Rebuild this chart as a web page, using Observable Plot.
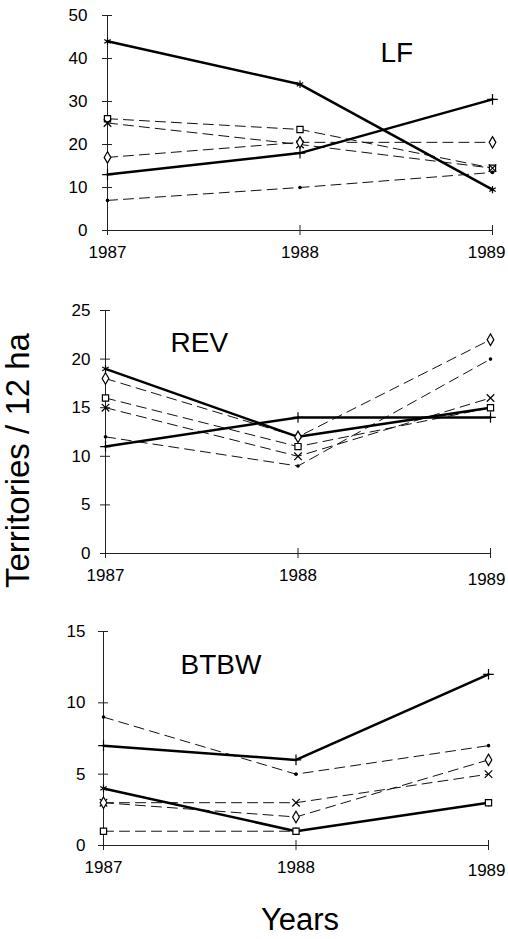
<!DOCTYPE html>
<html><head><meta charset="utf-8">
<script src="https://cdn.jsdelivr.net/npm/d3@7"></script>
<script src="https://cdn.jsdelivr.net/npm/@observablehq/plot@0.6"></script>
<style>
body{margin:0;background:#fff;}
#wrap{position:relative;width:508px;height:939px;overflow:hidden;background:#fff;font-family:"Liberation Sans",Arial,Helvetica,sans-serif;color:#000;}
.panel{position:absolute;left:0;}
#ytitle{position:absolute;width:320px;height:33px;line-height:33px;font-size:33px;text-align:center;left:-143px;top:443.5px;transform:rotate(-90deg);transform-origin:50% 50%;white-space:nowrap;}
#xtitle{position:absolute;width:200px;left:200px;top:904px;font-size:31px;line-height:31px;text-align:center;}
</style></head><body><div id="wrap"></div>
<script>
const years = [1987, 1988, 1989];
const seriesNames = ["asterisk", "plus", "square", "times", "diamond", "dot"];
const seriesSymbols = ["asterisk", "plus", "square", "times", "diamond", "circle"];
const solidSeries = ["asterisk", "plus"];

// LF
const lfAsterisk = [44, 34, 9.5];
const lfPlus = [13, 18, 30.5];
const lfSquare = [26, 23.5, 14.5];
const lfTimes = [25, 20, 14.5];
const lfDiamond = [17, 20.5, 20.5];
const lfDot = [7, 10, 13.5];
// REV
const revAsterisk = [19, 12, 15];
const revPlus = [11, 14, 14];
const revSquare = [16, 11, 15];
const revTimes = [15, 10, 16];
const revDiamond = [18, 12, 22];
const revDot = [12, 9, 20];
// BTBW
const btbwAsterisk = [4, 1, 3];
const btbwPlus = [7, 6, 12];
const btbwSquare = [1, 1, 3];
const btbwTimes = [3, 3, 5];
const btbwDiamond = [3, 2, 6];
const btbwDot = [9, 5, 7];

const panelLabels = ["LF", "REV", "BTBW"];
const lfTicks = [0, 10, 20, 30, 40, 50];
const revTicks = [0, 5, 10, 15, 20, 25];
const btbwTicks = [0, 5, 10, 15];
const yTitle = "Territories / 12 ha";
const xTitle = "Years";

function rows(arrays) {
  const out = [];
  seriesNames.forEach((s, i) => years.forEach((yr, j) => out.push({series: s, year: yr, value: arrays[i][j]})));
  return out;
}

const panels = [
  {label: panelLabels[0], data: rows([lfAsterisk, lfPlus, lfSquare, lfTimes, lfDiamond, lfDot]), ticks: lfTicks,
   top: 0, height: 265, mt: 15, ml: 107, mr: 16, gap: 20, lx: 273, ly: 38, dy89: 0},
  {label: panelLabels[1], data: rows([revAsterisk, revPlus, revSquare, revTimes, revDiamond, revDot]), ticks: revTicks,
   top: 265, height: 323, mt: 45, ml: 105, mr: 18, gap: 15, lx: 65, ly: 33, dy89: 4},
  {label: panelLabels[2], data: rows([btbwAsterisk, btbwPlus, btbwSquare, btbwTimes, btbwDiamond, btbwDot]), ticks: btbwTicks,
   top: 588, height: 292, mt: 43, ml: 103, mr: 20, gap: 18, lx: 77, ly: 34, dy89: 3}
];

const wrap = document.getElementById("wrap");
const font = "Liberation Sans, Arial, Helvetica, sans-serif";

for (const p of panels) {
  const solid = p.data.filter(d => solidSeries.includes(d.series));
  const dashed = p.data.filter(d => !solidSeries.includes(d.series));
  const markers = p.data.filter(d => d.series !== "dot");
  const dots = p.data.filter(d => d.series === "dot");
  const ymax = p.ticks[p.ticks.length - 1];
  const chart = Plot.plot({
    width: 508,
    height: p.height,
    marginTop: p.mt,
    marginBottom: 35,
    marginLeft: p.ml,
    marginRight: p.mr,
    style: {fontFamily: font, fontSize: "17px", color: "#000", background: "transparent", overflow: "visible"},
    x: {domain: [years[0], years[years.length - 1]]},
    y: {domain: [0, ymax]},
    symbol: {domain: seriesNames, range: seriesSymbols},
    marks: [
      Plot.ruleY([0], {stroke: "#222", strokeWidth: 1}),
      Plot.ruleX([years[0]], {stroke: "#222", strokeWidth: 1}),
      Plot.axisY(p.ticks, {tickSize: 10, dx: 5, tickPadding: p.gap - 5, fontSize: 17, label: null, stroke: "#222"}),
      Plot.axisX(years.slice(0, 2), {tickSize: 10, dy: -5, tickPadding: 10, fontSize: 17, label: null, tickFormat: d => String(d), stroke: "#222"}),
      Plot.axisX(years.slice(2), {tickSize: 10, dy: -5, tickPadding: 10, fontSize: 17, label: null, tickFormat: () => "", stroke: "#222"}),
      Plot.axisX(years.slice(2), {tickSize: 0, tickPadding: 15, dy: p.dy89, dx: p.mr - 3, textAnchor: "end", fontSize: 17, label: null, tickFormat: d => String(d)}),
      Plot.line(dashed, {x: "year", y: "value", z: "series", stroke: "#111", strokeWidth: 1, strokeDasharray: "10,6"}),
      Plot.line(solid, {x: "year", y: "value", z: "series", stroke: "#000", strokeWidth: 2.5}),
      Plot.dot(markers, {x: "year", y: "value", symbol: "series", stroke: "#000", fill: "white", r: 3.5, strokeWidth: 1.2}),
      Plot.dot(dots, {x: "year", y: "value", r: 1.8, fill: "#000"}),
      Plot.text([p.label], {text: d => d, frameAnchor: "top-left", textAnchor: "start", lineAnchor: "middle", dx: p.lx, dy: p.ly, fontSize: 28})
    ]
  });
  chart.classList.add("panel");
  chart.style.top = p.top + "px";
  chart.style.position = "absolute";
  wrap.appendChild(chart);
}

const yt = document.createElement("div");
yt.id = "ytitle";
yt.textContent = yTitle;
wrap.appendChild(yt);
const xt = document.createElement("div");
xt.id = "xtitle";
xt.textContent = xTitle;
wrap.appendChild(xt);
</script>
</body></html>
